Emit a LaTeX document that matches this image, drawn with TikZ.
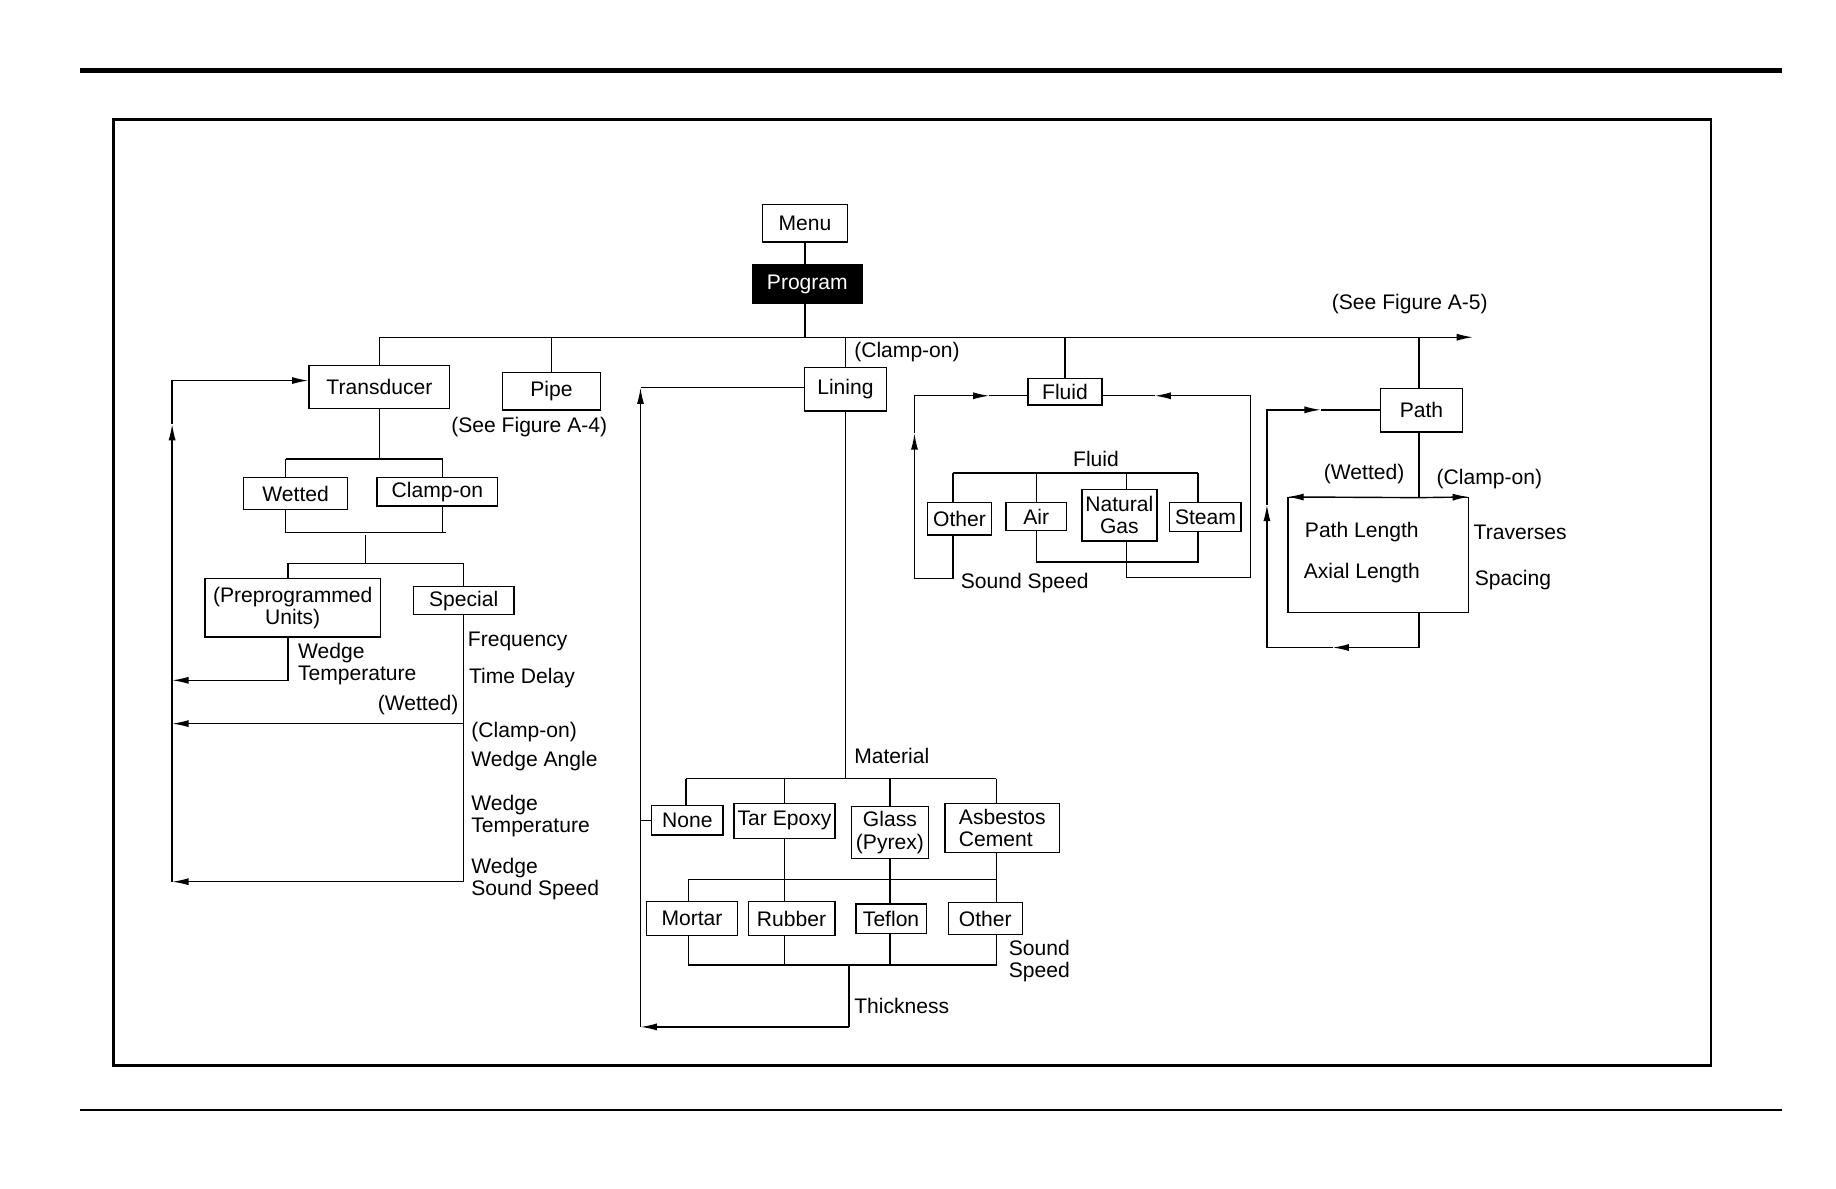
\documentclass[tikz,border=0pt]{standalone}
\usepackage{fontspec}
\setmainfont{Liberation Sans}
\usetikzlibrary{arrows.meta}

\begin{document}
\begin{tikzpicture}[
  x=1pt, y=-1pt,
  font=\fontsize{18}{19}\selectfont,
  line width=1.2pt,
  box/.style 2 args={draw, rectangle, inner sep=0pt, align=center,
                     minimum width=#1pt, minimum height=#2pt},
  arr/.style={-{Latex[length=14pt,width=6pt]}},
  lbl/.style={inner sep=0pt, align=left, anchor=west}
]
\useasboundingbox (0,0) rectangle (1568,1015);

%% page rules and frame
\draw[line width=4pt] (68,60) -- (1522,60);
\draw (68,948) -- (1522,948);
\draw[line width=2pt] (97,102) rectangle (1461,910);

%% top of the menu tree
\node[box={73}{32}] (menu) at (687.5,190.5) {Menu};
\node[box={93}{33}, fill=black, text=white] (prog) at (689.5,242.5) {Program};
\coordinate (busL) at (324,288);
\coordinate (busR) at (1258,288);
\draw (menu.south) -- (menu.south |- prog.north);
\draw (menu.south |- prog.south) -- (menu.south |- busL);
\draw[arr] (busL) -- (busR);
\node[lbl, anchor=center] (seeA5) at (1204,260) {(See Figure A-5)};

\node[box={120}{37}] (trans)  at (324,330.5) {Transducer};
\node[box={84}{32}]  (pipe)   at (471,334)   {Pipe};
\node[box={70}{37}]  (lining) at (722,332.5) {Lining};
\node[box={63}{23}]  (fluid)  at (909.5,334.5) {Fluid};
\node[box={70}{37}]  (path)   at (1214,350.5) {Path};
\foreach \n in {trans,pipe,lining,fluid}
  \draw (\n.north) -- (\n.north |- busL);
\coordinate (pj) at (1212,425);
\draw (pj |- busL) -- (pj |- path.north);
\node[lbl, anchor=center] (seeA4) at (452,365) {(See Figure A-4)};
\node[lbl] (clampLin) at (729,301) {(Clamp-on)};

%% transducer branch
\coordinate (tj1) at (324,392);
\coordinate (wetx) at (244,392);
\coordinate (clampx) at (378,392);
\node[box={89}{27}]  (wet)   at (252.5,421.5) {Wetted};
\node[box={103}{24}] (clamp) at (373.5,420)   {Clamp-on};
\draw (trans.south) -- (tj1);
\draw (wetx) -- (clampx);
\draw (wetx) -- (wetx |- wet.north);
\draw (clampx) -- (clampx |- clamp.north);
\coordinate (tj2L) at (244,455);
\coordinate (tj2R) at (381,455);
\draw (wetx |- wet.south) -- (tj2L) -- (tj2R);
\draw (clampx |- clamp.south) -- (clampx |- tj2R);
\coordinate (tj3) at (312,457);
\coordinate (ppx) at (246,481);
\coordinate (spx) at (396,481);
\draw (tj3) -- (tj3 |- ppx);
\draw (ppx) -- (spx);
\node[box={150}{50}] (preprog) at (250,519) {(Preprogrammed\\Units)};
\node[box={86}{24}]  (special) at (396,513) {Special};
\draw (ppx) -- (ppx |- preprog.north);
\draw (spx) -- (special.north);

%% transducer return loop
\coordinate (loopT) at (147,325);
\coordinate (loopA) at (147,362);
\coordinate (loopB) at (147,753);
\coordinate (ppEnd) at (246,581);
\coordinate (spWet) at (396,618);
\coordinate (spEnd) at (396,753);
\draw[arr] (ppx |- preprog.south) -- (ppEnd) -- (ppEnd -| loopB);
\draw (special.south) -- (spEnd);
\draw[arr] (spWet) -- (spWet -| loopB);
\draw[arr] (spEnd) -- (loopB);
\draw[arr] (loopB) -- (loopA);
\draw[arr] (loopA) |- (trans.west |- loopT);

\node[lbl] (wtemp1) at (254,567) {Wedge\\Temperature};
\node[lbl] (freq)   at (399,548) {Frequency};
\node[lbl] (tdel)   at (400,579) {Time Delay};
\node[lbl, anchor=east] (wetlbl) at (392,602) {(Wetted)};
\node[lbl] (clamplbl) at (402,625) {(Clamp-on)};
\node[lbl] (wang)   at (402,650) {Wedge Angle};
\node[lbl] (wtemp2) at (402,697) {Wedge\\Temperature};
\node[lbl] (wss)    at (402,751) {Wedge\\Sound Speed};

%% lining branch
\coordinate (lnTop) at (547,331);
\coordinate (matJ) at (722,665);
\coordinate (matL) at (586,665);
\coordinate (matR) at (851,665);
\draw (lining.west |- lnTop) -- (lnTop);
\draw (lining.south) -- (matJ);
\node[lbl] (matlbl) at (729,646) {Material};
\draw (matL) -- (matR);
\node[box={61}{25}] (none)  at (587,700.5) {None};
\node[box={86}{30}] (tar)   at (670,701)   {Tar Epoxy};
\node[box={66}{44}] (glass) at (760,711)   {Glass\\(Pyrex)};
\node[box={98}{42}, align=left] (asb) at (856,707) {Asbestos\\Cement};
\draw (matL) -- (matL |- none.north);
\draw (tar.north |- matL) -- (tar.north);
\draw (glass.north |- matL) -- (glass.north);
\draw (matR) -- (matR |- asb.north);
\draw (none.west) -- (none.west -| lnTop);

\coordinate (m2L) at (588,751);
\coordinate (m2R) at (851,751);
\draw (tar.south) -- (tar.south |- m2L);
\draw (glass.south) -- (glass.south |- m2L);
\draw (matR |- asb.south) -- (m2R);
\draw (m2L) -- (m2R);
\node[box={78}{29}] (mortar) at (591,784.5)   {Mortar};
\node[box={74}{29}] (rubber) at (676,784.5)   {Rubber};
\node[box={60}{25}] (teflon) at (761,784.5)   {Teflon};
\node[box={63}{27}] (othm)   at (841.5,784.5) {Other};
\draw (m2L) -- (m2L |- mortar.north);
\draw (tar.south |- m2L) -- (tar.south |- rubber.north);
\draw (glass.south |- m2L) -- (glass.south |- teflon.north);
\draw (m2R) -- (m2R |- othm.north);
\coordinate (m3L) at (588,824);
\coordinate (m3R) at (851,824);
\draw (m3L |- mortar.south) -- (m3L) -- (m3R) -- (m3R |- othm.south);
\draw (tar.south |- rubber.south) -- (tar.south |- m3L);
\draw (glass.south |- teflon.south) -- (glass.south |- m3L);
\node[lbl] (sslbl) at (861,821) {Sound\\Speed};
\coordinate (thJ) at (725,824);
\coordinate (thB) at (725,877);
\draw (thJ) -- (thB);
\node[lbl] (thlbl) at (729,859) {Thickness};
\draw[arr] (thB) -- (thB -| lnTop);
\draw[arr] (thB -| lnTop) -- (lnTop);

%% fluid branch
\coordinate (flL)  at (781,338);
\coordinate (flLA) at (781,370);
\coordinate (flLB) at (845,338);
\coordinate (flR)  at (1068,338);
\coordinate (flRA) at (986,338);
\node[lbl, anchor=center] (fllbl) at (936,392) {Fluid};
\coordinate (fbL) at (814,404);
\coordinate (fbR) at (1023,404);
\coordinate (gasx) at (962,404);
\draw (fbL) -- (fbR);
\node[box={55}{28}] (othf)  at (819.5,443)  {Other};
\node[box={52}{24}] (air)   at (885,441)    {Air};
\node[box={64}{44}] (gas)   at (956,440)    {Natural\\Gas};
\node[box={61}{25}] (steam) at (1029.5,441.5) {Steam};
\draw (fbL) -- (fbL |- othf.north);
\draw (air.north |- fbL) -- (air.north);
\draw (gasx) -- (gasx |- gas.north);
\draw (fbR) -- (fbR |- steam.north);
\coordinate (asJ) at (885,480);
\draw (air.south) -- (asJ) -- (asJ -| fbR) -- (fbR |- steam.south);
\coordinate (gasB) at (962,493);
\draw (gasx |- gas.south) -- (gasB) -- (gasB -| flR) -- (flR);
\draw[arr] (flR) -- (flRA);
\draw (flRA) -- (fluid.east |- flR);
\coordinate (ofB) at (814,494);
\draw[arr] (fbL |- othf.south) -- (ofB) -- (ofB -| flL) -- (flLA);
\draw[arr] (flLA) -- (flL) -- (flLB);
\draw (flLB) -- (fluid.west |- flL);
\node[lbl] (fsslbl) at (820,498) {Sound Speed};

%% path branch
\draw (pj |- path.south) -- (pj);
\node[box={154}{98}] (pbox) at (1177,474) {};
\draw[arr] (pj) -- (pbox.north west);
\draw[arr] (pj) -- (pbox.north east);
\node[lbl, anchor=center] (wetp)   at (1165,405) {(Wetted)};
\node[lbl, anchor=center] (clampp) at (1272,409) {(Clamp-on)};
\node[lbl, anchor=center] (plen)   at (1163,454) {Path Length};
\node[lbl, anchor=center] (alen)   at (1163,489) {Axial Length};
\node[lbl] (trav) at (1258,455) {Traverses};
\node[lbl] (spac) at (1259,495) {Spacing};
\coordinate (pbB) at (1212,553);
\coordinate (pbA) at (1138,553);
\coordinate (plB) at (1082,553);
\coordinate (plA) at (1082,431);
\coordinate (plT) at (1082,350);
\coordinate (plR) at (1128,350);
\draw (pj |- pbox.south) -- (pbB);
\draw[arr] (pbB) -- (pbA);
\draw[arr] (pbA) -- (plB) -- (plA);
\draw[arr] (plA) -- (plT) -- (plR);
\draw (plR) -- (path.west |- plT);
\end{tikzpicture}
\end{document}
